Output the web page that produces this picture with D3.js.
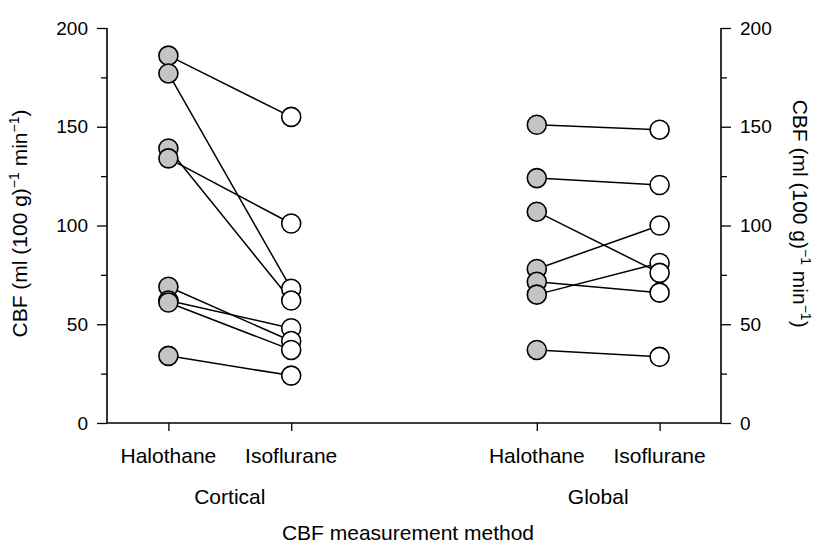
<!DOCTYPE html>
<html>
<head>
<meta charset="utf-8">
<script src="https://cdn.jsdelivr.net/npm/d3@7"></script>
<style>
  html, body { margin: 0; padding: 0; background: #fff; }
  svg text { font-family: "Liberation Sans", Arial, Helvetica, sans-serif; fill: #000; }
</style>
</head>
<body>
<svg id="chart" width="818" height="543"></svg>
<script>
// ---- data ----
const methods = ["Cortical", "Global"];
const agents = ["Halothane", "Isoflurane"];
const agentPositions = [1, 2, 4, 5];
const corticalHalothane = [186, 177, 139, 134, 69, 62, 61, 34];
const corticalIsoflurane = [155, 68, 62, 101, 41.5, 48, 37, 24];
const globalHalothane = [151, 124, 107, 78, 71.5, 65, 37];
const globalIsoflurane = [148.5, 120.5, 76, 100, 66, 81, 33.5];
const yTicks = [0, 50, 100, 150, 200];
const yMinorTicks = [25, 75, 125, 175];
const yLabelText = "CBF (ml (100 g)";
const xTitle = "CBF measurement method";

// ---- layout ----
const svg = d3.select("#chart");
const x = d3.scaleLinear().domain([0.5, 5.5]).range([107, 721]);
const y = d3.scaleLinear().domain([0, 200]).range([423, 28]);
const FS = 21;
const TFS = 19;

// axes
const leftAxis = d3.axisLeft(y).tickValues(yTicks).tickSize(10).tickPadding(9).tickFormat(d3.format("d"));
const rightAxis = d3.axisRight(y).tickValues(yTicks).tickSize(10).tickPadding(9).tickFormat(d3.format("d"));
const leftMinor = d3.axisLeft(y).tickValues(yMinorTicks).tickSize(6).tickFormat("");
const rightMinor = d3.axisRight(y).tickValues(yMinorTicks).tickSize(6).tickFormat("");
const bottomAxis = d3.axisBottom(x).tickValues(agentPositions).tickSize(8).tickFormat("");

function styleAxis(g) {
  g.selectAll("path.domain").attr("stroke", "#000").attr("stroke-width", 1.6);
  g.selectAll(".tick line").attr("stroke", "#000").attr("stroke-width", 1.3);
  g.selectAll(".tick text").style("font-size", TFS + "px").attr("fill", "#000");
  g.attr("font-family", null);
}

svg.append("g").attr("transform", `translate(${x(0.5)},0)`).call(leftMinor).call(styleAxis).select("path.domain").remove();
svg.append("g").attr("transform", `translate(${x(5.5)},0)`).call(rightMinor).call(styleAxis).select("path.domain").remove();
svg.append("g").attr("transform", `translate(0,${y(0)})`).call(bottomAxis).call(styleAxis)
  .select("path.domain").attr("d", `M${x(0.5)},0H${x(5.5)}`);
svg.append("g").attr("transform", `translate(${x(0.5)},0)`).call(leftAxis).call(styleAxis)
  .select("path.domain").attr("d", `M0,${y(200)}V${y(0)}`);
svg.append("g").attr("transform", `translate(${x(5.5)},0)`).call(rightAxis).call(styleAxis)
  .select("path.domain").attr("d", `M0,${y(200)}V${y(0)}`);

// category labels
const catLabels = [];
methods.forEach((m, mi) => agents.forEach((a, ai) => catLabels.push({ label: a, pos: agentPositions[mi * 2 + ai] })));
svg.append("g").selectAll("text").data(catLabels).join("text")
  .attr("x", d => x(d.pos)).attr("y", 463)
  .attr("text-anchor", "middle").style("font-size", FS + "px")
  .text(d => d.label);

svg.append("g").selectAll("text").data(methods).join("text")
  .attr("x", (d, i) => x((agentPositions[i * 2] + agentPositions[i * 2 + 1]) / 2)).attr("y", 504)
  .attr("text-anchor", "middle").style("font-size", FS + "px")
  .text(d => d);

svg.append("text").attr("x", 408).attr("y", 540).attr("text-anchor", "middle")
  .style("font-size", FS + "px").text(xTitle);

// y axis titles
function yTitle(g) {
  g.append("tspan").text(yLabelText);
  g.append("tspan").attr("dy", -8).style("font-size", "14px").text("−1");
  g.append("tspan").attr("dy", 8).text(" min");
  g.append("tspan").attr("dy", -8).style("font-size", "14px").text("−1");
  g.append("tspan").attr("dy", 8).text(")");
}
svg.append("text").attr("transform", `translate(27,${y(101)}) rotate(-90)`)
  .attr("text-anchor", "middle").style("font-size", FS + "px").call(yTitle);
svg.append("text").attr("transform", `translate(793,${y(106)}) rotate(90)`)
  .attr("text-anchor", "middle").style("font-size", FS + "px").call(yTitle);

// data pairs
const groups = [
  { h: corticalHalothane, i: corticalIsoflurane, xh: agentPositions[0], xi: agentPositions[1] },
  { h: globalHalothane, i: globalIsoflurane, xh: agentPositions[2], xi: agentPositions[3] }
];
const R = 9.5;
const plot = svg.append("g");
groups.forEach(g => {
  const pairs = g.h.map((v, k) => ({ h: v, i: g.i[k] }));
  plot.append("g").selectAll("line").data(pairs).join("line")
    .attr("x1", x(g.xh)).attr("y1", d => y(d.h))
    .attr("x2", x(g.xi)).attr("y2", d => y(d.i))
    .attr("stroke", "#000").attr("stroke-width", 1.5);
  const hs = g.h.slice().sort((a, b) => b - a);
  const is = g.i.slice().sort((a, b) => b - a);
  plot.append("g").selectAll("circle").data(hs).join("circle")
    .attr("cx", x(g.xh)).attr("cy", d => y(d)).attr("r", R)
    .attr("fill", "#c4c4c4").attr("stroke", "#000").attr("stroke-width", 1.6);
  plot.append("g").selectAll("circle").data(is).join("circle")
    .attr("cx", x(g.xi)).attr("cy", d => y(d)).attr("r", R)
    .attr("fill", "#fff").attr("stroke", "#000").attr("stroke-width", 1.6);
});
</script>
</body>
</html>
